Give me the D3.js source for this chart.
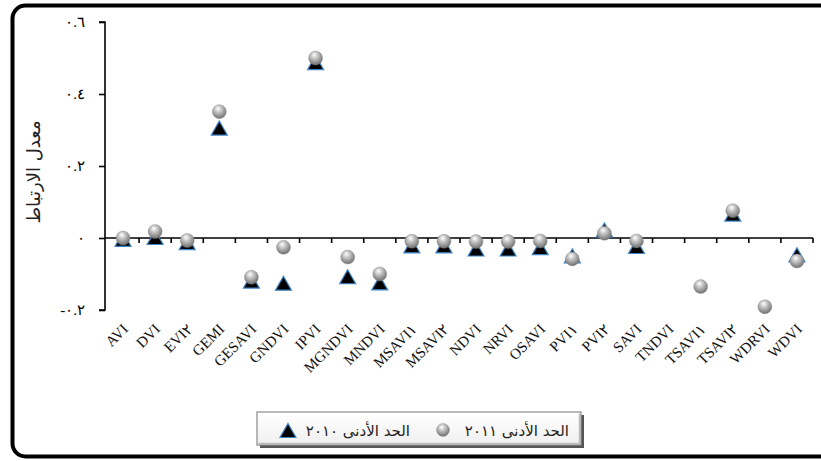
<!DOCTYPE html>
<html>
<head>
<meta charset="utf-8">
<script src="https://cdn.jsdelivr.net/npm/d3@7"></script>
<style>
  html, body { margin: 0; padding: 0; background: #fff; }
  svg { display: block; }
</style>
</head>
<body>
<svg id="chart" width="821" height="461"></svg>
<script>
// Vegetation indices on the category axis
const categories = ["AVI","DVI","EVI٢","GEMI","GESAVI","GNDVI","IPVI","MGNDVI","MNDVI","MSAVI١","MSAVI٢","NDVI","NRVI","OSAVI","PVI١","PVI٢","SAVI","TNDVI","TSAVI١","TSAVI٢","WDRVI","WDVI"];

// Correlation coefficient, minimum 2011 (spheres)
const min2011 = [0.0, 0.018, -0.007, 0.351, -0.109, -0.026, 0.50, -0.053, -0.10, -0.009, -0.009, -0.01, -0.01, -0.008, -0.058, 0.013, -0.008, null, -0.135, 0.076, -0.191, -0.064];

// Correlation coefficient, minimum 2010 (triangles)
const min2010 = [-0.005, 0.0, -0.014, 0.304, -0.121, -0.127, 0.486, -0.109, -0.126, -0.023, -0.023, -0.032, -0.032, -0.028, -0.051, 0.021, -0.025, null, null, 0.065, null, -0.048];

// Y axis ticks and their Arabic-Indic labels
const yTicks = [-0.2, 0, 0.2, 0.4, 0.6];
const yTickLabels = ["-٠.٢", "٠", "٠.٢", "٠.٤", "٠.٦"];

const yTitle = "معدل الارتباط";
const legendLabels = ["الحد الأدنى ٢٠١٠", "الحد الأدنى ٢٠١١"];

const svg = d3.select("#chart");
const serif = "'Liberation Serif', 'Times New Roman', serif";
const arabic = "'DejaVu Sans', sans-serif";

// Gradients
const defs = svg.append("defs");
const sphere = defs.append("radialGradient").attr("id", "sphere")
  .attr("cx", "45%").attr("cy", "35%").attr("r", "65%").attr("fx", "40%").attr("fy", "28%");
sphere.append("stop").attr("offset", "0%").attr("stop-color", "#ffffff");
sphere.append("stop").attr("offset", "35%").attr("stop-color", "#c9c9c9");
sphere.append("stop").attr("offset", "80%").attr("stop-color", "#8a8a8a");
sphere.append("stop").attr("offset", "100%").attr("stop-color", "#6e6e6e");

const legFill = defs.append("linearGradient").attr("id", "legFill")
  .attr("x1", "0").attr("y1", "0").attr("x2", "0").attr("y2", "1");
legFill.append("stop").attr("offset", "0%").attr("stop-color", "#ffffff");
legFill.append("stop").attr("offset", "100%").attr("stop-color", "#f0f0f0");

// Outer rounded frame
svg.append("rect")
  .attr("x", 12.5).attr("y", 5.5)
  .attr("width", 830).attr("height", 451)
  .attr("rx", 13).attr("ry", 13)
  .attr("fill", "#fff").attr("stroke", "#000").attr("stroke-width", 4);

// Scales
const axisX = 105;
const x = d3.scaleBand().domain(categories).range([107, 813]).padding(0);
const y = d3.scaleLinear().domain([-0.2, 0.6]).range([310, 22]);

// Y axis
const yAxis = d3.axisLeft(y).tickValues(yTicks).tickSize(6).tickPadding(14)
  .tickFormat((d, i) => yTickLabels[i]);
const gy = svg.append("g").attr("transform", `translate(${axisX},0)`).call(yAxis);
gy.select(".domain").attr("stroke", "#000").attr("stroke-width", 1.6).attr("d", `M-6,${y(0.6)}H0V${y(-0.2)}H-6`);
gy.selectAll(".tick line").attr("stroke", "#000").attr("stroke-width", 1.6);
gy.selectAll(".tick text")
  .attr("font-family", serif).attr("font-size", 15).attr("fill", "#000")
  .attr("direction", "ltr").attr("unicode-bidi", "bidi-override");

// X axis along zero line with ticks between categories
const x0 = y(0);
svg.append("line")
  .attr("x1", axisX).attr("x2", 813).attr("y1", x0).attr("y2", x0)
  .attr("stroke", "#000").attr("stroke-width", 1.6);
svg.append("g").selectAll("line")
  .data(categories)
  .join("line")
  .attr("x1", d => x(d) + x.bandwidth()).attr("x2", d => x(d) + x.bandwidth())
  .attr("y1", x0).attr("y2", x0 + 5)
  .attr("stroke", "#000").attr("stroke-width", 1.6);

// Category labels, rotated 45 degrees, below the plot
svg.append("g").selectAll("text")
  .data(categories)
  .join("text")
  .attr("transform", d => "translate(" + (x(d) + x.bandwidth() / 2 + 6) + ",330) rotate(-45)")
  .attr("text-anchor", "end")
  .attr("font-family", serif).attr("font-size", 15).attr("fill", "#111")
  .text(d => d);

// Y axis title
svg.append("text")
  .attr("transform", "translate(40,172) rotate(-90)")
  .attr("text-anchor", "middle")
  .attr("font-family", arabic).attr("font-size", 18).attr("fill", "#222")
  .text(yTitle);

// Marker shapes
const triPath = (cx, cy) => `M${cx},${cy - 7.5}L${cx + 8},${cy + 6.5}L${cx - 8},${cy + 6.5}Z`;

const pts2010 = categories.map((c, i) => ({ c, v: min2010[i] })).filter(d => d.v !== null);
const pts2011 = categories.map((c, i) => ({ c, v: min2011[i] })).filter(d => d.v !== null);
const cxOf = c => x(c) + x.bandwidth() / 2;

svg.append("g").selectAll("path")
  .data(pts2010)
  .join("path")
  .attr("d", d => triPath(cxOf(d.c), y(d.v)))
  .attr("fill", "#000").attr("stroke", "#3f86c8").attr("stroke-width", 1.2);

svg.append("g").selectAll("circle")
  .data(pts2011)
  .join("circle")
  .attr("cx", d => cxOf(d.c)).attr("cy", d => y(d.v)).attr("r", 7)
  .attr("fill", "url(#sphere)").attr("stroke", "#8c8c8c").attr("stroke-width", 0.4);

// Legend box with bevel
const lg = svg.append("g");
lg.append("rect").attr("x", 260).attr("y", 415).attr("width", 324).attr("height", 33)
  .attr("fill", "#555");
lg.append("rect").attr("x", 257).attr("y", 412).attr("width", 324).attr("height", 33)
  .attr("fill", "url(#legFill)").attr("stroke", "#8a8a8a").attr("stroke-width", 1.2);
lg.append("path").attr("d", "M258.5,443.5H579.5V413.5").attr("fill", "none")
  .attr("stroke", "#bdbdbd").attr("stroke-width", 1.5);

// 2010 entry
lg.append("path").attr("d", triPath(288, 431)).attr("fill", "#000")
  .attr("stroke", "#3f86c8").attr("stroke-width", 1.2);
lg.append("text").attr("x", 410).attr("y", 436).attr("text-anchor", "start")
  .attr("direction", "rtl")
  .attr("font-family", arabic).attr("font-size", 15).attr("fill", "#222")
  .text(legendLabels[0]);

// 2011 entry
lg.append("circle").attr("cx", 443).attr("cy", 430).attr("r", 6.5).attr("fill", "url(#sphere)")
  .attr("stroke", "#8c8c8c").attr("stroke-width", 0.4);
lg.append("text").attr("x", 569).attr("y", 436).attr("text-anchor", "start")
  .attr("direction", "rtl")
  .attr("font-family", arabic).attr("font-size", 15).attr("fill", "#222")
  .text(legendLabels[1]);
</script>
</body>
</html>
